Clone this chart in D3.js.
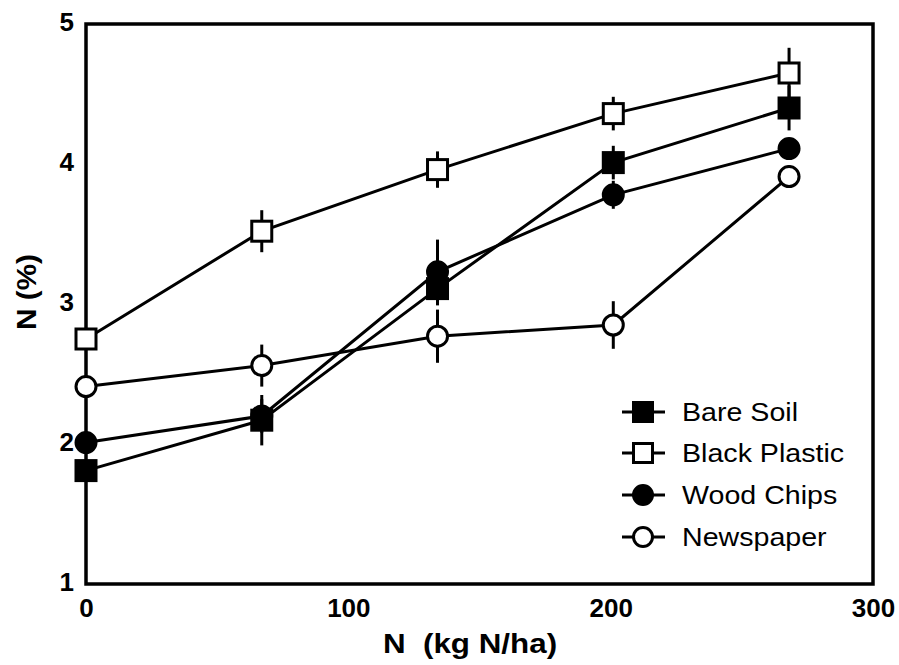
<!DOCTYPE html>
<html><head><meta charset="utf-8">
<script src="https://cdn.jsdelivr.net/npm/d3@7"></script>
<style>body{margin:0;background:#fff}text{font-family:"Liberation Sans",Arial,sans-serif}</style>
</head><body><svg id="c" width="899" height="665"></svg>
<script>
const xValues = [0, 67, 134, 201, 268];
const seriesNames = ["Bare Soil", "Black Plastic", "Wood Chips", "Newspaper"];
const bareSoil = [1.81, 2.17, 3.11, 4.01, 4.40];
const bareSoilErr = [0.03, 0.18, 0.12, 0.12, 0.16];
const blackPlastic = [2.75, 3.52, 3.96, 4.36, 4.65];
const blackPlasticErr = [0.03, 0.15, 0.13, 0.12, 0.18];
const woodChips = [2.01, 2.20, 3.23, 3.78, 4.11];
const woodChipsErr = [0.03, 0.12, 0.23, 0.10, 0.05];
const newspaper = [2.41, 2.56, 2.77, 2.85, 3.91];
const newspaperErr = [0.03, 0.15, 0.19, 0.17, 0.08];
const xTicks = [0, 100, 200, 300];
const yTicks = [1, 2, 3, 4, 5];

const series = [
  {name: seriesNames[0], vals: bareSoil, err: bareSoilErr, shape: "square", fill: "#000"},
  {name: seriesNames[1], vals: blackPlastic, err: blackPlasticErr, shape: "square", fill: "#fff"},
  {name: seriesNames[2], vals: woodChips, err: woodChipsErr, shape: "circle", fill: "#000"},
  {name: seriesNames[3], vals: newspaper, err: newspaperErr, shape: "circle", fill: "#fff"}
];

const svg = d3.select("#c");
const L = 86, R = 873, T = 24, B = 584;
const x = d3.scaleLinear().domain([0, 300]).range([L, R]);
const y = d3.scaleLinear().domain([1, 5]).range([B, T]);

// frame
svg.append("rect").attr("x", L).attr("y", T).attr("width", R - L).attr("height", B - T)
  .attr("fill", "none").attr("stroke", "#000").attr("stroke-width", 3.5);

const FF = '"Liberation Sans",Arial,sans-serif';
// axes labels
const xAxis = d3.axisBottom(x).tickValues(xTicks).tickSize(0).tickPadding(15).tickFormat(d3.format("d"));
const gx = svg.append("g").attr("transform", `translate(0,${B})`).call(xAxis);
gx.select(".domain").remove();
gx.selectAll("text").attr("font-size", 26).attr("font-weight", "bold").attr("fill", "#000")
  .style("font-family", FF);

const yAxis = d3.axisLeft(y).tickValues(yTicks).tickSize(0).tickPadding(12).tickFormat(d3.format("d"));
const gy = svg.append("g").attr("transform", `translate(${L},-2)`).call(yAxis);
gy.select(".domain").remove();
gy.selectAll("text").attr("font-size", 26).attr("font-weight", "bold").attr("fill", "#000")
  .style("font-family", FF);

svg.append("text").attr("transform", "translate(470,653) scale(1.12,1)").attr("text-anchor", "middle")
  .attr("font-size", 28).attr("font-weight", "bold").attr("xml:space", "preserve")
  .style("white-space", "pre").text("N  (kg N/ha)");
svg.append("text").attr("transform", "translate(36,292) rotate(-90) scale(1.1,1)").attr("text-anchor", "middle")
  .attr("font-size", 27).attr("font-weight", "bold").text("N (%)");

function drawMarker(g, s, cx, cy, sz) {
  if (s.shape === "square") {
    g.append("rect").attr("x", cx - sz).attr("y", cy - sz).attr("width", 2 * sz).attr("height", 2 * sz)
      .attr("fill", s.fill).attr("stroke", "#000").attr("stroke-width", 3);
  } else {
    g.append("circle").attr("cx", cx).attr("cy", cy).attr("r", sz)
      .attr("fill", s.fill).attr("stroke", "#000").attr("stroke-width", 3);
  }
}

const line = d3.line().x((d, i) => x(xValues[i])).y(d => y(d));
const plot = svg.append("g");
// error bars
series.forEach(s => {
  s.vals.forEach((v, i) => {
    plot.append("line").attr("x1", x(xValues[i])).attr("x2", x(xValues[i]))
      .attr("y1", y(v - s.err[i])).attr("y2", y(v + s.err[i]))
      .attr("stroke", "#000").attr("stroke-width", 3);
  });
});
series.forEach(s => {
  plot.append("path").datum(s.vals).attr("d", line).attr("fill", "none")
    .attr("stroke", "#000").attr("stroke-width", 3);
});
series.forEach(s => {
  s.vals.forEach((v, i) => drawMarker(plot, s, x(xValues[i]), y(v), 10));
});

// legend
const legY = [412, 453, 495, 537];
series.forEach((s, i) => {
  const g = svg.append("g");
  g.append("line").attr("x1", 622).attr("x2", 665).attr("y1", legY[i]).attr("y2", legY[i])
    .attr("stroke", "#000").attr("stroke-width", 3);
  drawMarker(g, s, 643, legY[i], 9.5);
  g.append("text").attr("transform", `translate(682,${legY[i]}) scale(1.1,1)`).attr("dy", "0.36em")
    .attr("font-size", 26).attr("fill", "#000").text(s.name);
});
</script></body></html>
